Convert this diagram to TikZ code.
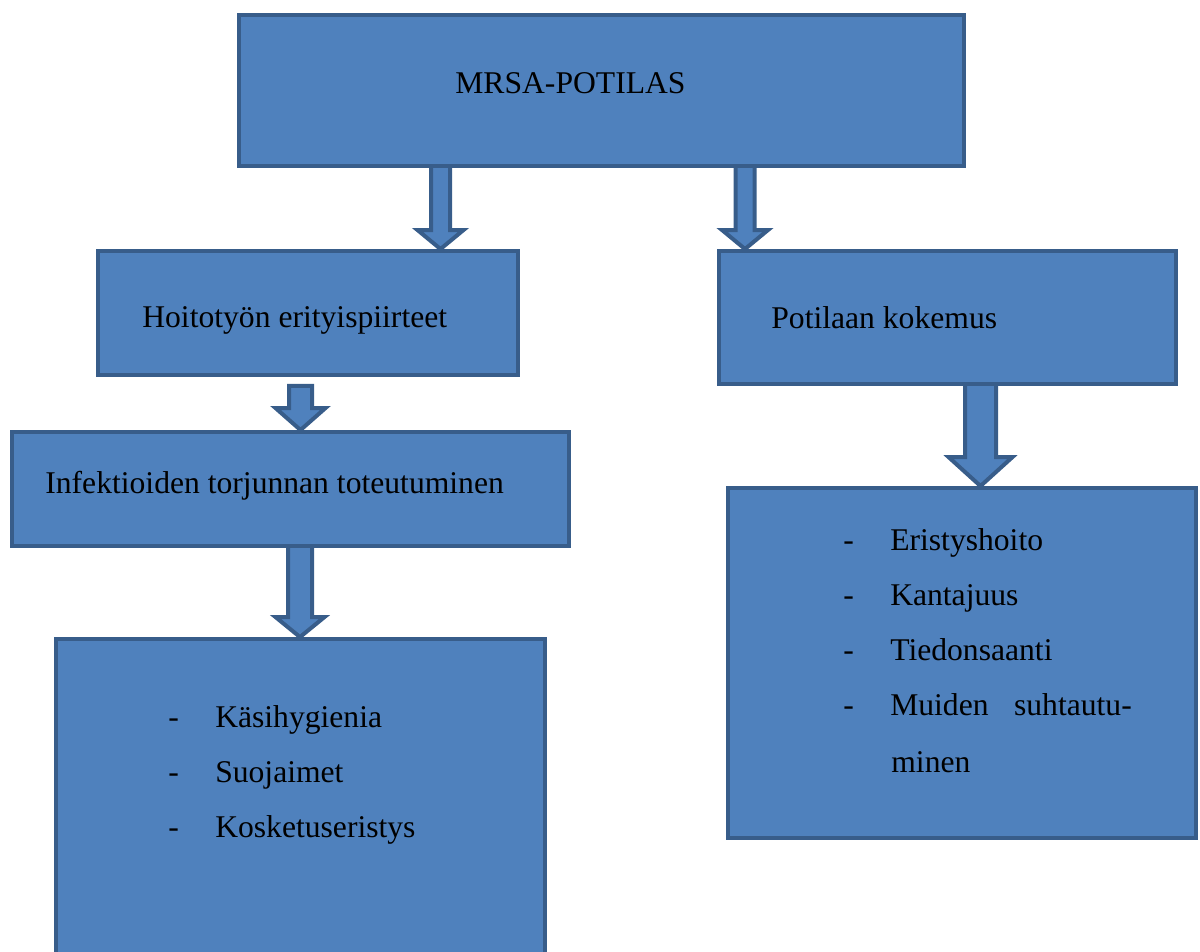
\documentclass[tikz,border=0pt]{standalone}
\usepackage{fontspec}
\setmainfont{Liberation Serif}
\usepackage{tikz}
\usetikzlibrary{calc}
\usetikzlibrary{backgrounds}
\definecolor{boxfill}{HTML}{4F81BD}
\definecolor{boxline}{HTML}{385D8A}
\tikzset{every node/.style={font=\fontsize{18}{22}\selectfont}}
\tikzset{blockbox/.style={shape=rectangle, draw=boxline, fill=boxfill, line width=0.08cm, inner sep=0pt}}
\tikzset{blockarrow/.style={draw=boxline, fill=boxfill, line width=0.08cm, line join=miter}}
\tikzset{boxtext/.style={anchor=base west, inner sep=0pt}}
\newcommand{\itemdash}{\makebox[26.7pt][l]{-}}
% start, tip, half shaft, half head, head length
\newcommand{\downblock}[5]{%
	\path (#1) coordinate (arrS) (#2) coordinate (arrT);
	\draw[blockarrow] ($(arrS)+(-#3,0)$) -- ($(arrT)+(-#3,-#5)$) -- ($(arrT)+(-#4,-#5)$) -- (arrT)
		-- ($(arrT)+(#4,-#5)$) -- ($(arrT)+(#3,-#5)$) -- ($(arrS)+(#3,0)$) -- cycle;}

\begin{document}
\begin{tikzpicture}[x=0.02cm, y=-0.02cm]
	\useasboundingbox (0,0) rectangle (1200,951);
	\clip (0,0) rectangle (1200,951);
	% boxes
	\node[blockbox, minimum width=14.5cm, minimum height=3.02cm] (A) at (601.5,90.5) {};
	\node[blockbox, minimum width=8.4cm, minimum height=2.48cm] (B) at (308,313) {};
	\node[blockbox, minimum width=9.14cm, minimum height=2.66cm] (C) at (947.5,317.5) {};
	\node[blockbox, minimum width=11.14cm, minimum height=2.28cm] (D) at (290.5,489) {};
	\node[blockbox, minimum width=9.78cm, minimum height=6.58cm] (E) at (300.5,803.5) {};
	\node[blockbox, minimum width=9.36cm, minimum height=7cm] (F) at (962,663) {};
	% texts
	\node[boxtext] (tA) at (455,93) {MRSA-POTILAS};
	\node[boxtext] (tB) at (142,327) {Hoitotyön erityispiirteet};
	\node[boxtext] (tC) at (771,328) {Potilaan kokemus};
	\node[boxtext] (tD) at (45,493) {Infektioiden torjunnan toteutuminen};
	\foreach \txt [count=\i] in {Käsihygienia, Suojaimet, Kosketuseristys}
		\node[boxtext] (e\i) at (168,{727+55*(\i-1)}) {\itemdash\txt};
	\node[boxtext] (f1) at (843,550) {\itemdash Eristyshoito};
	\node[boxtext] (f2) at (843,605) {\itemdash Kantajuus};
	\node[boxtext] (f3) at (843,660) {\itemdash Tiedonsaanti};
	\node[boxtext] (f4) at (843,715) {\itemdash Muiden\hspace{14.5pt}suhtautu-};
	\node[boxtext] (f5) at (891,772) {minen};
	% arrows
	\coordinate (c1) at (440.5,0);
	\coordinate (c2) at (745,0);
	\coordinate (c3) at (300.5,0);
	\coordinate (c4) at (300,0);
	\coordinate (c5) at (980.5,0);
	\begin{scope}[on background layer]
		\downblock{$(c1 |- A.south)+(0,-4)$}{c1 |- B.north}{9.5}{23}{19}
		\downblock{$(c2 |- A.south)+(0,-4)$}{c2 |- C.north}{9.5}{23}{19}
		\downblock{$(c3 |- B.south)+(0,9)$}{c3 |- D.north}{11.5}{25}{22}
		\downblock{$(c4 |- D.south)+(0,-4)$}{c4 |- E.north}{12}{24.5}{20}
		\downblock{$(c5 |- C.south)+(0,-4)$}{c5 |- F.north}{15.5}{32}{29}
	\end{scope}
\end{tikzpicture}
\end{document}
